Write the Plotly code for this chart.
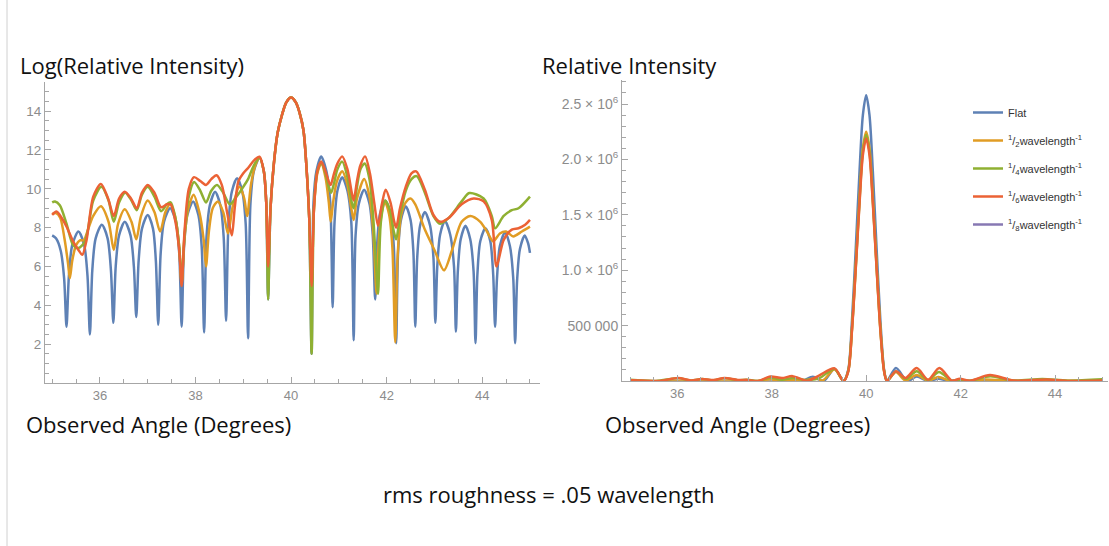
import plotly.graph_objects as go

# ---------------- data ----------------
# Shared main lobe of the log plot (all series coincide there)
MAIN_X = [39.57, 39.64, 39.72, 39.81, 39.90, 40.00, 40.10, 40.18, 40.26, 40.32, 40.38]
MAIN_Y = [9.0, 11.3, 12.9, 13.8, 14.45, 14.7, 14.45, 13.9, 13.0, 11.2, 8.5]

# Flat (log)
FLAT_L_X1 = [35.00, 35.08, 35.18, 35.25, 35.30, 35.35, 35.42, 35.55, 35.67, 35.74, 35.79,
             35.84, 35.91, 36.04, 36.16, 36.23, 36.28, 36.33, 36.40, 36.52, 36.64, 36.71, 36.76,
             36.81, 36.88, 37.00, 37.11, 37.17, 37.22, 37.27, 37.34, 37.47, 37.59, 37.66, 37.71,
             37.76, 37.83, 37.95, 38.06, 38.13, 38.18, 38.23, 38.30, 38.41, 38.52, 38.59, 38.64,
             38.69, 38.76, 38.87, 38.98, 39.05, 39.10, 39.15, 39.22, 39.34, 39.43, 39.48, 39.52]
FLAT_L_Y1 = [7.6, 7.45, 6.8, 5.4, 2.9, 5.5, 7.1, 7.8, 7.1, 5.5, 2.5,
             5.8, 7.45, 8.15, 7.45, 5.8, 3.1, 6.0, 7.6, 8.3, 7.6, 6.0, 3.4,
             6.3, 7.95, 8.65, 7.95, 6.3, 3.0, 6.65, 8.3, 9.0, 8.3, 6.65, 2.9,
             7.0, 8.65, 9.35, 8.65, 7.0, 2.6, 7.5, 9.15, 9.85, 9.15, 7.5, 3.2,
             8.2, 9.85, 10.55, 9.85, 8.2, 2.3, 9.25, 10.9, 11.6, 10.9, 9.3, 4.3]
FLAT_L_X2 = [40.43, 40.47, 40.53, 40.63, 40.74, 40.82, 40.87, 40.91, 40.97, 41.07, 41.18, 41.26, 41.31,
             41.35, 41.42, 41.53, 41.64, 41.71, 41.76, 41.80, 41.86, 41.97, 42.08, 42.15, 42.20,
             42.24, 42.30, 42.40, 42.50, 42.56, 42.60, 42.64, 42.70, 42.80, 42.91, 42.98, 43.02,
             43.06, 43.12, 43.22, 43.33, 43.41, 43.45, 43.49, 43.55, 43.65, 43.75, 43.82, 43.86,
             43.90, 43.96, 44.07, 44.17, 44.23, 44.27, 44.31, 44.37, 44.48, 44.58, 44.65, 44.69,
             44.73, 44.79, 44.89, 44.96, 45.00]
FLAT_L_Y2 = [1.5, 9.3, 10.9, 11.67, 10.9, 9.3, 3.9, 8.3, 9.9, 10.6, 9.9, 8.3, 2.2,
             7.6, 9.25, 9.95, 9.25, 7.6, 4.3, 7.05, 8.7, 9.4, 8.7, 7.05, 2.05,
             6.75, 8.4, 9.1, 8.4, 6.75, 2.9, 6.45, 8.1, 8.8, 8.1, 6.45, 3.1,
             6.0, 7.65, 8.35, 7.65, 6.0, 2.65, 5.75, 7.4, 8.1, 7.4, 5.75, 2.05,
             5.6, 7.3, 7.97, 7.3, 5.6, 2.9, 5.4, 7.05, 7.75, 7.05, 5.4, 2.05,
             5.25, 6.9, 7.6, 7.2, 6.7]

# 1/2 wavelength^-1 (log)
HALF_L_X1 = [35.00, 35.08, 35.17, 35.26, 35.33, 35.37, 35.42, 35.50, 35.58, 35.66, 35.75, 35.86,
             36.02, 36.18, 36.29, 36.38, 36.52, 36.66, 36.76, 36.86, 37.00, 37.14, 37.26, 37.37,
             37.47, 37.57, 37.66, 37.71, 37.77, 37.85, 37.96, 38.08, 38.17, 38.22, 38.28, 38.36,
             38.47, 38.58, 38.68, 38.78, 38.92, 39.02, 39.08, 39.16, 39.25, 39.34, 39.43, 39.48, 39.52]
HALF_L_Y1 = [8.7, 8.75, 8.5, 7.4, 6.2, 5.4, 6.3, 7.1, 7.35, 7.35, 7.9, 8.6,
             9.1, 8.3, 6.85, 8.2, 8.95, 8.3, 7.4, 8.6, 9.4, 8.8, 7.8, 8.8,
             9.2, 8.6, 7.0, 5.1, 7.5, 9.0, 9.7, 8.8, 7.4, 6.0, 7.8, 9.0,
             9.35, 8.8, 7.7, 9.1, 10.1, 9.5, 8.6, 10.2, 11.2, 11.6, 10.9, 9.3, 6.0]
HALF_L_X2 = [40.43, 40.48, 40.55, 40.63, 40.72, 40.79, 40.83, 40.88, 40.96, 41.07, 41.17, 41.26, 41.31,
             41.38, 41.53, 41.64, 41.72, 41.79, 41.84, 41.90, 41.97, 42.05, 42.12, 42.18, 42.23,
             42.30, 42.40, 42.50, 42.60, 42.80, 43.00, 43.20, 43.37, 43.57, 43.75, 43.96, 44.10,
             44.23, 44.37, 44.50, 44.65, 44.83, 45.00]
HALF_L_Y2 = [5.0, 9.0, 10.8, 11.3, 10.6, 9.3, 8.3, 9.3, 10.4, 10.9, 10.3, 9.0, 8.4,
             9.5, 10.5, 9.6, 7.8, 4.6, 7.5, 8.8, 9.3, 8.7, 7.0, 2.1, 6.5,
             8.6, 9.3, 9.5, 9.2, 7.9, 6.85, 5.8, 6.85, 8.3, 8.6, 8.3, 7.8,
             7.3, 7.7, 7.8, 7.55, 7.8, 8.05]

# 1/4 wavelength^-1 (log)
QUART_L_X1 = [35.00, 35.06, 35.16, 35.30, 35.44, 35.55, 35.69, 35.86, 36.03, 36.18, 36.29, 36.40,
              36.53, 36.66, 36.77, 36.88, 37.00, 37.14, 37.28, 37.40, 37.48, 37.58, 37.66, 37.71,
              37.77, 37.86, 37.97, 38.10, 38.22, 38.33, 38.45, 38.58, 38.72, 38.86, 39.00, 39.10,
              39.22, 39.34, 39.43, 39.48, 39.52]
QUART_L_Y1 = [9.3, 9.35, 9.15, 8.2, 7.1, 6.95, 7.3, 9.4, 10.1, 9.4, 8.3, 9.3,
              9.8, 9.4, 8.9, 9.7, 10.1, 9.6, 8.85, 9.2, 9.3, 8.5, 7.0, 5.2,
              7.6, 9.6, 10.35, 9.9, 9.3, 9.9, 10.2, 9.8, 9.2, 9.6, 10.1, 10.5,
              11.2, 11.6, 10.9, 9.3, 4.3]
QUART_L_X2 = [40.43, 40.48, 40.55, 40.63, 40.72, 40.80, 40.84, 40.90, 40.97, 41.07, 41.18, 41.27, 41.31,
              41.38, 41.45, 41.54, 41.64, 41.72, 41.78, 41.82, 41.88, 41.97, 42.07, 42.15, 42.20,
              42.28, 42.40, 42.52, 42.63, 42.80, 42.98, 43.12, 43.30, 43.57, 43.73, 44.03, 44.20,
              44.27, 44.45, 44.62, 44.76, 45.00]
QUART_L_Y2 = [1.5, 9.0, 10.9, 11.35, 10.8, 10.0, 9.8, 10.3, 11.0, 11.4, 10.6, 9.3, 9.0,
              10.1, 11.0, 11.3, 10.5, 8.5, 6.0, 4.6, 8.3, 9.4, 8.9, 7.8, 7.4,
              8.6, 9.9, 10.5, 10.65, 9.8, 8.6, 8.2, 8.5, 9.35, 9.78, 9.5, 8.6,
              7.97, 8.6, 8.9, 9.0, 9.6]

# 1/6 wavelength^-1 (log)
SIXTH_L_X1 = [35.00, 35.09, 35.20, 35.30, 35.44, 35.55, 35.63, 35.72, 35.86, 36.02, 36.17, 36.29,
              36.40, 36.52, 36.65, 36.77, 36.88, 37.00, 37.14, 37.28, 37.40, 37.48, 37.58, 37.66,
              37.71, 37.77, 37.86, 37.97, 38.10, 38.22, 38.33, 38.44, 38.55, 38.66, 38.76, 38.82,
              38.90, 39.00, 39.10, 39.22, 39.34, 39.43, 39.48, 39.52]
SIXTH_L_Y1 = [8.66, 8.83, 8.5, 8.06, 7.28, 6.85, 6.6, 7.37, 9.6, 10.25, 9.5, 8.6,
              9.5, 9.85, 9.5, 9.0, 9.8, 10.2, 9.8, 9.05, 9.2, 9.2, 8.3, 6.8,
              5.0, 7.8, 10.0, 10.6, 10.4, 10.2, 10.5, 10.7, 10.2, 8.8, 7.6, 9.0,
              10.4, 10.8, 11.07, 11.45, 11.65, 10.9, 9.3, 6.0]
SIXTH_L_X2 = [40.43, 40.48, 40.55, 40.63, 40.72, 40.80, 40.83, 40.90, 40.97, 41.07, 41.18, 41.27, 41.31,
              41.38, 41.45, 41.55, 41.65, 41.74, 41.82, 41.90, 41.98, 42.08, 42.16, 42.20, 42.28,
              42.40, 42.52, 42.62, 42.80, 42.98, 43.12, 43.30, 43.57, 43.82, 44.03, 44.20, 44.30,
              44.45, 44.62, 44.76, 44.90, 45.00]
SIXTH_L_Y2 = [5.0, 9.0, 10.9, 11.4, 10.9, 10.3, 10.2, 10.8, 11.3, 11.67, 11.0, 9.8, 9.4,
              10.4, 11.2, 11.67, 10.8, 9.3, 8.1, 9.2, 9.95, 9.3, 8.3, 8.0, 9.0,
              10.1, 10.8, 10.9, 9.95, 8.65, 8.3, 8.5, 9.2, 9.5, 9.35, 8.4, 6.0,
              7.37, 7.9, 7.97, 8.15, 8.4]

# Linear plot: shared main-lobe angles and per-series heights
MAIN_R_X = [39.52, 39.62, 39.70, 39.78, 39.86, 39.93, 40.00, 40.07, 40.14, 40.22, 40.30, 40.38, 40.44]
FLAT_MAIN_R = [0, 0.10e6, 0.55e6, 1.20e6, 1.90e6, 2.40e6, 2.58e6, 2.40e6, 1.90e6, 1.20e6, 0.55e6, 0.10e6, 0]
HALF_MAIN_R = [0, 0.09e6, 0.48e6, 1.05e6, 1.66e6, 2.10e6, 2.25e6, 2.10e6, 1.66e6, 1.05e6, 0.48e6, 0.09e6, 0]
QUART_MAIN_R = [0, 0.09e6, 0.47e6, 1.03e6, 1.63e6, 2.07e6, 2.22e6, 2.07e6, 1.63e6, 1.03e6, 0.47e6, 0.09e6, 0]
SIXTH_MAIN_R = [0, 0.085e6, 0.46e6, 1.02e6, 1.61e6, 2.04e6, 2.19e6, 2.04e6, 1.61e6, 1.02e6, 0.46e6, 0.085e6, 0]

FLAT_R_X1 = [35.0, 38.18, 38.41, 38.64, 38.87, 39.10, 39.33]
FLAT_R_Y1 = [0, 0, 0.019e6, 0, 0.038e6, 0, 0.11e6]
FLAT_R_X2 = [40.63, 40.87, 41.07, 41.31, 41.53, 41.76, 41.97, 42.20, 45.0]
FLAT_R_Y2 = [0.117e6, 0, 0.04e6, 0, 0.021e6, 0, 0.012e6, 0, 0]

HALF_R_X1 = [35.0, 37.71, 37.96, 38.22, 38.47, 38.68, 38.92, 39.08, 39.33]
HALF_R_Y1 = [0, 0, 0.016e6, 0, 0.011e6, 0.002e6, 0.024e6, 0.005e6, 0.105e6]
HALF_R_X2 = [40.63, 40.83, 41.07, 41.31, 41.53, 41.79, 41.97, 42.20, 42.50, 43.20, 43.75, 45.0]
HALF_R_Y2 = [0.081e6, 0.004e6, 0.054e6, 0.004e6, 0.036e6, 0, 0.011e6, 0, 0.013e6, 0, 0.005e6, 0]

QUART_R_X1 = [35.0, 35.55, 36.03, 36.29, 36.53, 36.77, 37.0, 37.28, 37.48, 37.71, 37.97, 38.22,
              38.45, 38.72, 39.0, 39.33]
QUART_R_Y1 = [0.011e6, 0.001e6, 0.024e6, 0.004e6, 0.018e6, 0.007e6, 0.024e6, 0.007e6, 0.011e6, 0,
              0.031e6, 0.011e6, 0.027e6, 0.01e6, 0.024e6, 0.109e6]
QUART_R_X2 = [40.63, 40.84, 41.07, 41.31, 41.54, 41.82, 41.97, 42.20, 42.63, 43.12, 43.73, 44.27, 45.0]
QUART_R_Y2 = [0.085e6, 0.018e6, 0.089e6, 0.008e6, 0.081e6, 0, 0.012e6, 0.002e6, 0.042e6, 0.004e6,
              0.018e6, 0.003e6, 0.015e6]

SIXTH_R_X1 = [35.0, 35.09, 35.63, 36.02, 36.29, 36.52, 36.77, 37.0, 37.28, 37.48, 37.71, 37.97,
              38.22, 38.44, 38.76, 39.0, 39.33]
SIXTH_R_Y1 = [0.006e6, 0.007e6, 0.001e6, 0.028e6, 0.005e6, 0.019e6, 0.008e6, 0.027e6, 0.009e6,
              0.01e6, 0, 0.04e6, 0.027e6, 0.044e6, 0.002e6, 0.049e6, 0.114e6]
SIXTH_R_X2 = [40.63, 40.83, 41.07, 41.31, 41.55, 41.82, 41.98, 42.20, 42.62, 43.12, 43.82, 44.30, 45.0]
SIXTH_R_Y2 = [0.089e6, 0.027e6, 0.117e6, 0.012e6, 0.117e6, 0.003e6, 0.021e6, 0.003e6, 0.054e6,
              0.004e6, 0.013e6, 0, 0.004e6]

SERIES_NAMES = ["Flat",
                "<sup>1</sup>/<sub>2</sub>wavelength<sup>-1</sup>",
                "<sup>1</sup>/<sub>4</sub>wavelength<sup>-1</sup>",
                "<sup>1</sup>/<sub>6</sub>wavelength<sup>-1</sup>",
                "<sup>1</sup>/<sub>8</sub>wavelength<sup>-1</sup>"]
COLORS = ["#5E81B5", "#E19C24", "#8FB032", "#EB6235", "#8778B3"]

LEFT_Y_TICKS = [2, 4, 6, 8, 10, 12, 14]
X_TICKS = [36, 38, 40, 42, 44]
RIGHT_Y_TICKS = [500000, 1000000, 1500000, 2000000, 2500000]
RIGHT_Y_LABELS = ["500 000", "1.0 × 10<sup>6</sup>", "1.5 × 10<sup>6</sup>",
                  "2.0 × 10<sup>6</sup>", "2.5 × 10<sup>6</sup>"]

# ---------------- figure ----------------
W, H = 1109, 546
fig = go.Figure()

left_sets = [
    (FLAT_L_X1 + MAIN_X + FLAT_L_X2, FLAT_L_Y1 + MAIN_Y + FLAT_L_Y2),
    (HALF_L_X1 + MAIN_X + HALF_L_X2, HALF_L_Y1 + MAIN_Y + HALF_L_Y2),
    (QUART_L_X1 + MAIN_X + QUART_L_X2, QUART_L_Y1 + MAIN_Y + QUART_L_Y2),
    (SIXTH_L_X1 + MAIN_X + SIXTH_L_X2, SIXTH_L_Y1 + MAIN_Y + SIXTH_L_Y2),
]
right_sets = [
    (FLAT_R_X1 + MAIN_R_X + FLAT_R_X2, FLAT_R_Y1 + FLAT_MAIN_R + FLAT_R_Y2),
    (HALF_R_X1 + MAIN_R_X + HALF_R_X2, HALF_R_Y1 + HALF_MAIN_R + HALF_R_Y2),
    (QUART_R_X1 + MAIN_R_X + QUART_R_X2, QUART_R_Y1 + QUART_MAIN_R + QUART_R_Y2),
    (SIXTH_R_X1 + MAIN_R_X + SIXTH_R_X2, SIXTH_R_Y1 + SIXTH_MAIN_R + SIXTH_R_Y2),
]

for i, (xs, ys) in enumerate(left_sets):
    fig.add_trace(go.Scatter(x=xs, y=ys, mode="lines", xaxis="x", yaxis="y",
                             line=dict(color=COLORS[i], width=2.5, shape="spline", smoothing=0.8),
                             showlegend=False, hoverinfo="skip"))

for i, (xs, ys) in enumerate(right_sets):
    fig.add_trace(go.Scatter(x=xs, y=ys, mode="lines", xaxis="x2", yaxis="y2",
                             name=SERIES_NAMES[i], legendgroup=f"g{i}",
                             line=dict(color=COLORS[i], width=2.5, shape="spline", smoothing=0.8),
                             showlegend=True, hoverinfo="skip"))
# 1/8 series: only present in legend (no visible data in the picture)
fig.add_trace(go.Scatter(x=[None], y=[None], mode="lines", xaxis="x2", yaxis="y2",
                         name=SERIES_NAMES[4], legendgroup="g4",
                         line=dict(color=COLORS[4], width=2.5), showlegend=True))

def axis_common(size):
    return dict(showline=True, linecolor="#a6a6a6", linewidth=1, ticks="inside",
                tickcolor="#a6a6a6", ticklen=6, tickwidth=1, showgrid=False, zeroline=False,
                tickfont=dict(family="Liberation Sans", size=size, color="#8c8c8c"))

fig.update_layout(
    width=W, height=H, margin=dict(l=0, r=0, t=0, b=0),
    paper_bgcolor="white", plot_bgcolor="white",
    xaxis=dict(domain=[45 / W, 540 / W], range=[34.85, 45.21], anchor="y",
               tickvals=X_TICKS, minor=dict(dtick=0.5, tick0=35, ticks="inside", ticklen=4,
                                            tickcolor="#a6a6a6"), **axis_common(13)),
    yaxis=dict(domain=[(H - 383) / H, (H - 82) / H], range=[0, 15.5], anchor="x",
               tickvals=LEFT_Y_TICKS, minor=dict(dtick=0.5, tick0=0, ticks="inside", ticklen=4,
                                                 tickcolor="#a6a6a6"), **axis_common(13.5)),
    xaxis2=dict(domain=[622 / W, 1108 / W], range=[34.83, 45.12], anchor="y2",
                tickvals=X_TICKS, minor=dict(dtick=0.5, tick0=35, ticks="inside", ticklen=4,
                                             tickcolor="#a6a6a6"), **axis_common(13)),
    yaxis2=dict(domain=[(H - 381) / H, (H - 80) / H], range=[0, 2.717e6], anchor="x2",
                tickvals=RIGHT_Y_TICKS, ticktext=RIGHT_Y_LABELS,
                minor=dict(dtick=100000, tick0=0, ticks="inside", ticklen=4, tickcolor="#a6a6a6"),
                **axis_common(14)),
    legend=dict(x=968 / W, y=(H - 98) / H, xanchor="left", yanchor="top",
                font=dict(family="Liberation Sans", size=11, color="#333333"),
                bgcolor="rgba(0,0,0,0)", itemwidth=30, tracegroupgap=9, traceorder="grouped"),
)

title_font = dict(family="Open Sans", size=22, color="#111111")
annos = [
    dict(text="Log(Relative Intensity)", x=18 / W, y=(H - 65) / H, xanchor="left"),
    dict(text="Relative Intensity", x=540 / W, y=(H - 65) / H, xanchor="left"),
    dict(text="Observed Angle (Degrees)", x=24 / W, y=(H - 424) / H, xanchor="left"),
    dict(text="Observed Angle (Degrees)", x=603 / W, y=(H - 424) / H, xanchor="left"),
    dict(text="rms roughness = .05 wavelength", x=548 / W, y=(H - 494) / H, xanchor="center"),
]
for a in annos:
    fig.add_annotation(xref="paper", yref="paper", yanchor="middle", showarrow=False,
                       font=title_font, **a)

# thin frame line at the far left of the picture
fig.add_shape(type="line", xref="paper", yref="paper", x0=7 / W, x1=7 / W, y0=0, y1=1,
              line=dict(color="#d0d0d0", width=1))

fig.write_html("out.html")
